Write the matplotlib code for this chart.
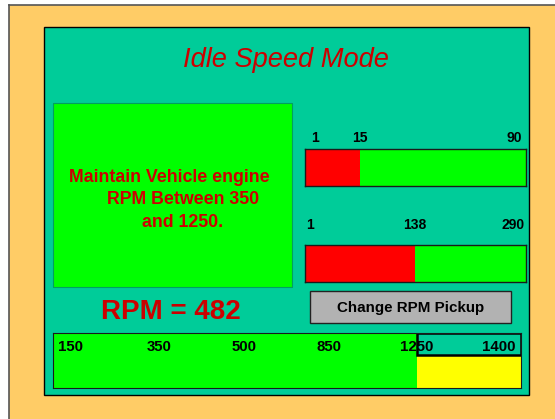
import numpy as np
import matplotlib
matplotlib.use("Agg")
import matplotlib.pyplot as plt
from matplotlib.patches import Rectangle
from matplotlib.transforms import blended_transform_factory

plt.rcParams['font.family'] = ['Liberation Sans', 'DejaVu Sans']

# ---------------- data ----------------
title = "Idle Speed Mode"
instruction_lines = ["Maintain Vehicle engine", "RPM Between 350", "and 1250."]
rpm_value = 482
button_label = "Change RPM Pickup"

gauge1_ticks = [1, 15, 90]
gauge1_value = 15
gauge2_ticks = [1, 138, 290]
gauge2_value = 138

rpm_scale_ticks = [150, 350, 500, 850, 1250, 1400]
rpm_green_limit = 1250

# ---------------- styles ----------------
W, H = 555, 419
ORANGE = '#FFCC66'
TEAL = '#00CC99'
GREEN = '#00FF00'
RED = '#FF0000'
DARKRED = '#CC0000'
YELLOW = '#FFFF00'
GRAY = '#B2B2B2'

fig = plt.figure(figsize=(W / 100, H / 100), dpi=100)
fig.patch.set_facecolor('white')

bg = fig.add_axes([0, 0, 1, 1])
bg.set_xlim(0, W)
bg.set_ylim(H, 0)
bg.axis('off')

# outer orange area with frame line
bg.add_patch(Rectangle((9, 5.5), W, H, facecolor=ORANGE, edgecolor='none'))
bg.plot([9, 9], [5.5, H], color='#555555', lw=1.2)
bg.plot([9, W], [5.5, 5.5], color='#555555', lw=1.2)

# teal panel
bg.add_patch(Rectangle((43.5, 27.5), 485, 367, facecolor=TEAL,
                       edgecolor='black', lw=1.0))

# title
bg.text(286, 60, title, color=DARKRED, fontsize=19.6, style='italic',
        ha='center', va='center')

# left instruction box
bg.add_patch(Rectangle((52.7, 103), 239, 184, facecolor=GREEN,
                       edgecolor='#00A060', lw=0.8))
line_x = [169, 183, 183]
line_y = [177.7, 199.5, 222]
for t, x, y in zip(instruction_lines, line_x, line_y):
    bg.text(x, y, t, color=DARKRED, fontsize=12.8, fontweight='bold',
            ha='center', va='center')

# RPM readout
bg.text(170.5, 311.5, f"RPM = {rpm_value}", color=DARKRED, fontsize=20,
        fontweight='bold', ha='center', va='center')

# button
bg.add_patch(Rectangle((310, 291.3), 201.3, 32, facecolor=GRAY,
                       edgecolor='#222222', lw=1.0))
bg.text(410.7, 307.8, button_label, color='black', fontsize=10.9,
        fontweight='bold', ha='center', va='center')


def px_axes(x0, y0, x1, y1):
    return fig.add_axes([x0 / W, 1 - y1 / H, (x1 - x0) / W, (y1 - y0) / H])


def piecewise_scale(ax, knots, positions):
    k = np.asarray(knots, float)
    p = np.asarray(positions, float)

    def fwd(v):
        return np.interp(v, k, p)

    def inv(v):
        return np.interp(v, p, k)
    ax.set_xscale('function', functions=(fwd, inv))
    ax.set_xlim(k[0], k[-1])


def gauge(x0, y0, x1, y1, ticks, value, tick_pos, label_dy):
    ax = px_axes(x0, y0, x1, y1)
    lo = 0
    hi = ticks[-1] * 1.06
    piecewise_scale(ax, [lo] + ticks + [hi], [0] + tick_pos + [1])
    ax.set_ylim(-0.5, 0.5)
    ax.set_facecolor(GREEN)
    ax.barh(0, value - lo, left=lo, height=1.0, color=RED, edgecolor='none')
    ax.set_xticks([])
    ax.set_yticks([])
    for s in ax.spines.values():
        s.set_color('#1a1a1a')
        s.set_linewidth(1.0)
    tr = blended_transform_factory(ax.transData, ax.transAxes)
    for t in ticks:
        ax.text(t, 1 + label_dy, str(t), transform=tr, ha='center',
                va='center', fontsize=10, fontweight='bold', clip_on=False)
    return ax


gauge(305, 149.3, 525.7, 186.3, gauge1_ticks, gauge1_value,
      [0.045, 0.249, 0.947], 11.5 / 37)
gauge(305, 245.3, 525.7, 282.3, gauge2_ticks, gauge2_value,
      [0.023, 0.498, 0.945], 20.5 / 37)

# bottom RPM scale
ax = px_axes(52.7, 332.7, 521, 387.7)
lo, hi = 100, 1450
piecewise_scale(ax, [lo] + rpm_scale_ticks + [hi],
                [0, 0.039, 0.228, 0.409, 0.590, 0.778, 0.953, 1])
ax.set_ylim(0, 1)
ax.set_facecolor(TEAL)
ax.barh(0.5, rpm_green_limit - lo, left=lo, height=1.0, color=GREEN,
        edgecolor='none')
ax.barh(0.29, hi - rpm_green_limit, left=rpm_green_limit, height=0.58,
        color=YELLOW, edgecolor='none')
ax.barh(0.79, hi - rpm_green_limit, left=rpm_green_limit, height=0.40,
        color=TEAL, edgecolor='black', linewidth=1.8)
ax.set_xticks([])
ax.set_yticks([])
for s in ax.spines.values():
    s.set_color('#1a1a1a')
    s.set_linewidth(0.8)
tr = blended_transform_factory(ax.transData, ax.transAxes)
for t in rpm_scale_ticks:
    ax.text(t, 0.745, str(t), transform=tr, ha='center', va='center',
            fontsize=10.8, fontweight='bold', zorder=5)

fig.savefig('out.png', dpi=100, facecolor=fig.get_facecolor())
